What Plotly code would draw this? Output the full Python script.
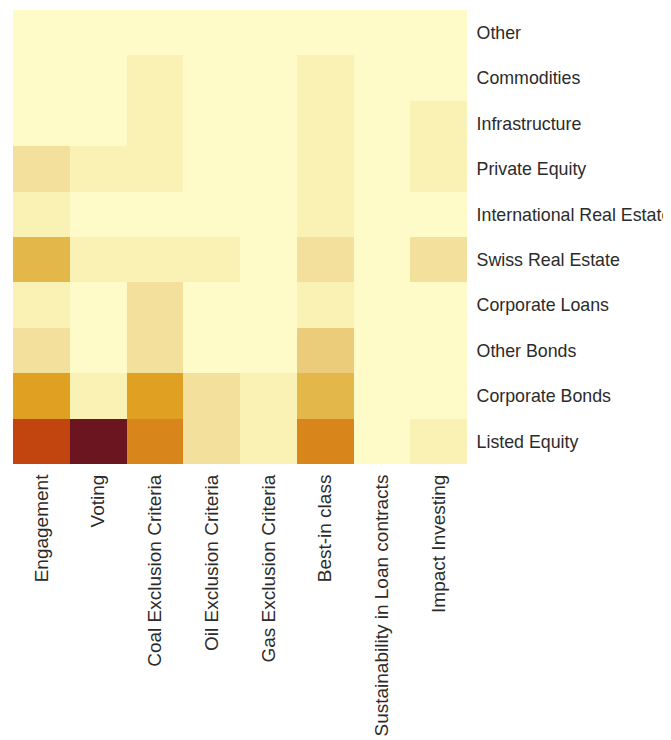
import plotly.graph_objects as go

strategies = ["Engagement", "Voting", "Coal Exclusion Criteria", "Oil Exclusion Criteria",
              "Gas Exclusion Criteria", "Best-in class", "Sustainability in Loan contracts",
              "Impact Investing"]
asset_classes = ["Other", "Commodities", "Infrastructure", "Private Equity",
                 "International Real Estate", "Swiss Real Estate", "Corporate Loans",
                 "Other Bonds", "Corporate Bonds", "Listed Equity"]

other = [0, 0, 0, 0, 0, 0, 0, 0]
commodities = [0, 0, 1, 0, 0, 1, 0, 0]
infrastructure = [0, 0, 1, 0, 0, 1, 0, 1]
private_equity = [2, 1, 1, 0, 0, 1, 0, 1]
intl_real_estate = [1, 0, 0, 0, 0, 1, 0, 0]
swiss_real_estate = [4, 1, 1, 1, 0, 2, 0, 2]
corporate_loans = [1, 0, 2, 0, 0, 1, 0, 0]
other_bonds = [2, 0, 2, 0, 0, 3, 0, 0]
corporate_bonds = [5, 1, 5, 2, 1, 4, 0, 0]
listed_equity = [8, 11, 6, 2, 1, 6, 0, 1]

z = [other, commodities, infrastructure, private_equity, intl_real_estate,
     swiss_real_estate, corporate_loans, other_bonds, corporate_bonds, listed_equity]

zmax = 11
stops = [(0, "#FEFBC9"), (1, "#FAF1B5"), (2, "#F2E09C"), (3, "#EBCC7A"), (4, "#E3B74A"),
         (5, "#E0A022"), (6, "#D8861C"), (8, "#C2440E"), (11, "#6B1520")]
colorscale = [[v / zmax, c] for v, c in stops]

fig = go.Figure(go.Heatmap(
    z=z, x=strategies, y=asset_classes,
    colorscale=colorscale, zmin=0, zmax=zmax,
    showscale=False, xgap=0, ygap=0,
))

# page body has an 8px margin, so the figure is sized to fit the 671x740 window
fig.update_layout(
    width=663, height=732,
    margin=dict(l=5, r=204, t=2, b=276),
    paper_bgcolor="white", plot_bgcolor="white",
    font=dict(family="Liberation Sans, Arial, sans-serif", color="#2b2b2b"),
)
fig.update_xaxes(tickangle=-90, tickfont=dict(size=19), showgrid=False, zeroline=False,
                 automargin=False,
                 ticks="outside", ticklen=2, tickcolor="rgba(0,0,0,0)")
fig.update_yaxes(side="right", autorange="reversed", tickfont=dict(size=17.8),
                 showgrid=False, zeroline=False, automargin=False,
                 ticks="outside", ticklen=5, tickcolor="rgba(0,0,0,0)")

fig.write_html("out.html")
